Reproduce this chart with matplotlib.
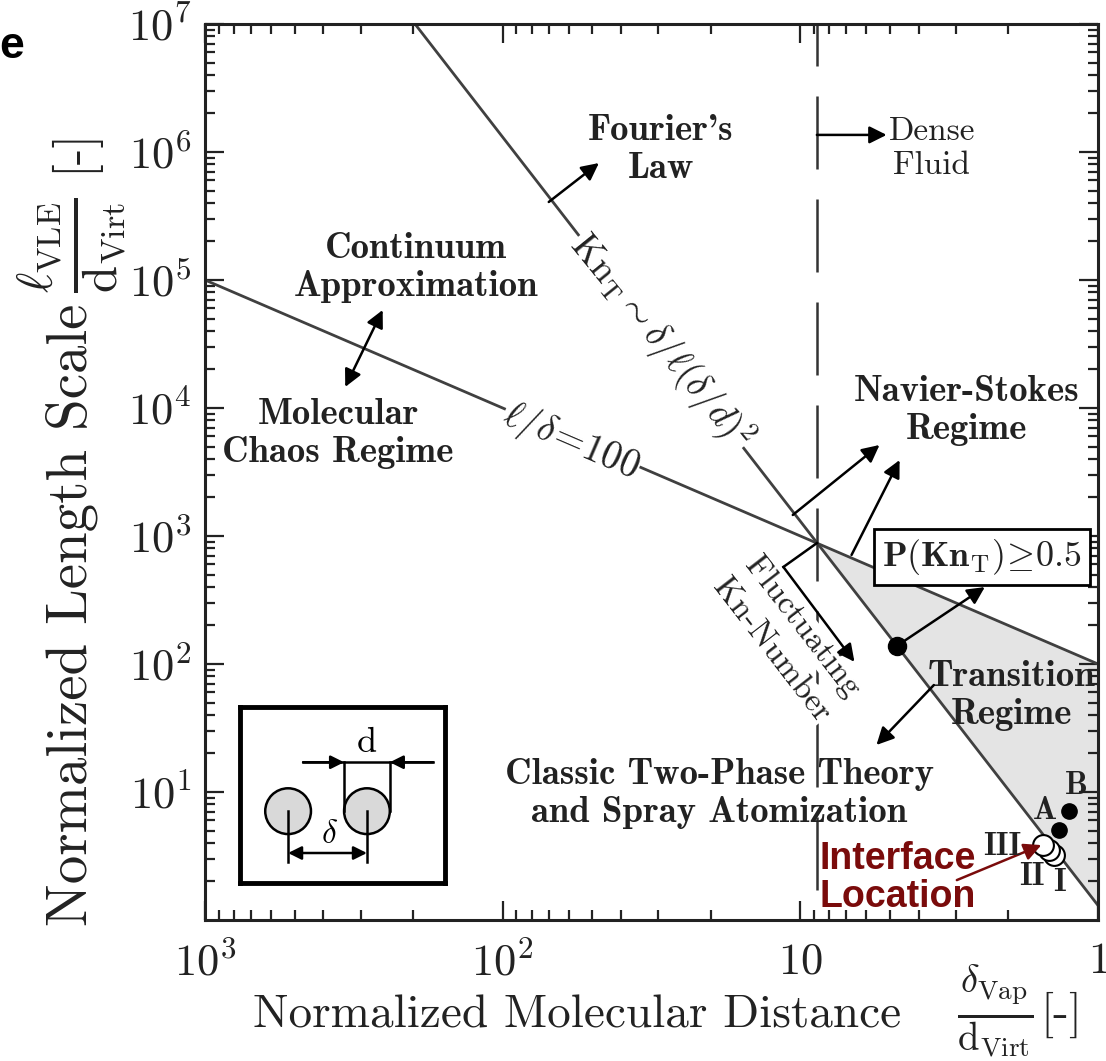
import numpy as np
import matplotlib
matplotlib.use('Agg')
import matplotlib.pyplot as plt
from matplotlib.ticker import FixedLocator, LogLocator, NullFormatter
from matplotlib.patches import Circle

plt.rcParams['font.family'] = 'cmr10'
plt.rcParams['mathtext.fontset'] = 'cm'
plt.rcParams['axes.formatter.use_mathtext'] = True

# boundary lines (delta/d , l/d)
lim100_delta = [1000, 1]
lim100_len = [1e5, 100]
kn_delta = [197, 1]
kn_len = [1e7, 1.3]
cross_delta = 8.8          # intersection -> dense fluid limit
cross_len = 880

# transition region (grey)
trans_delta = [cross_delta, 1, 1]
trans_len = [cross_len, 100, 1.3]

# marked states
p_delta = [4.75]
p_len = [138]
solid_delta = [1.25, 1.35]      # B, A
solid_len = [7.1, 5.05]
open_delta = [1.41, 1.46, 1.53]  # I, II, III
open_len = [3.22, 3.52, 3.85]

xticks = [1000, 100, 10, 1]
xticklabels = ['$10^3$', '$10^2$', '$10$', '$1$']
yticks = [1e1, 1e2, 1e3, 1e4, 1e5, 1e6, 1e7]
yticklabels = ['$10^{%d}$' % k for k in range(1, 8)]

LINE = '#404040'
TXT = '#222222'
W, H = 1106, 1061


def px(x, y):
    # pixel position -> figure fraction
    return x / W, 1 - y / H


fig = plt.figure(figsize=(W / 100, H / 100), dpi=100)
ax = fig.add_axes([205 / W, 1 - 920 / H, 893 / W, 896 / H])
ax.set_xscale('log')
ax.set_yscale('log')
ax.set_xlim(1000, 1)
ax.set_ylim(1, 1e7)

# shaded transition regime
ax.fill(trans_delta, trans_len, color='#e4e4e4', zorder=1, lw=0)

# regime boundaries
ax.plot(lim100_delta, lim100_len, color=LINE, lw=2.0, zorder=2)
ax.plot(kn_delta, kn_len, color=LINE, lw=2.0, zorder=2)
ax.plot([cross_delta, cross_delta], [1e7, 1], color='#333333', lw=1.8,
        linestyle=(12.4, (29.2, 12.0)), zorder=2)

arrow = dict(arrowstyle='-|>', color='k', lw=1.8, mutation_scale=26,
             shrinkA=0, shrinkB=0)


def arr(tail, head, style='-|>', color='k'):
    props = dict(arrow, arrowstyle=style, color=color)
    ax.annotate('', xy=head, xytext=tail, arrowprops=props, zorder=6)


bold = dict(family='cmb10', fontsize=26.5, color=TXT, ha='center',
            va='center', linespacing=1.2, zorder=5)
plain = dict(family='cmr10', fontsize=24, color=TXT, ha='center',
             va='center', linespacing=1.2, zorder=5)
white = dict(facecolor='white', edgecolor='none', pad=0.5)

# labels and arrows
ax.text(29.4, 1.04e6, "Fourier's\nLaw", **bold)
arr((70, 4.07e5), (47.5, 8.2e5))

ax.text(3.62, 1.07e6, 'Dense\nFluid', **plain)
arr((cross_delta, 1.36e6), (5.13, 1.36e6))

ax.text(196, 1.26e5, 'Continuum\nApproximation', **bold)
arr((338, 1.46e4), (253, 5.83e4), style='<|-|>')
ax.text(357, 6.3e3, 'Molecular\nChaos Regime', **bold)

ax.text(59, 5.4e3, r'$\ell/\delta\!=\!100$', fontsize=28, color=TXT,
        rotation=-23.3, ha='center', va='center', rotation_mode='anchor',
        bbox=white, zorder=4)
ax.text(29.4, 3.3e4, r'$\mathrm{Kn}_\mathrm{T}\sim\delta/\ell(\delta/d)^2$',
        fontsize=27, color=TXT, rotation=-51, ha='center', va='center',
        rotation_mode='anchor', bbox=white, zorder=4)

ax.text(2.76, 9.6e3, 'Navier-Stokes\nRegime', **bold)
arr((10.6, 1460), (5.42, 5.14e3))
arr((6.73, 711), (4.64, 3.92e3))

ax.text(2.46, 685,
        r'$\mathbf{P(Kn}_{\mathrm{T}}\mathbf{)}\!\geq\!\mathbf{0.5}$',
        fontsize=26, color=TXT, ha='center', va='center', zorder=7,
        bbox=dict(facecolor='white', edgecolor='k', lw=2, pad=6))
ax.plot(p_delta, p_len, 'o', color='k', ms=13, zorder=6)
arr((p_delta[0], p_len[0]), (2.40, 399))

ax.text(9.85, 195, 'Fluctuating', rotation=-52.3, rotation_mode='anchor',
        bbox=white, **dict(plain, zorder=3))
ax.text(12.5, 129, 'Kn-Number', rotation=-52.3, rotation_mode='anchor',
        bbox=white, **dict(plain, zorder=3))
ax.plot([cross_delta, 11.4], [cross_len, 573], color='k', lw=1.8, zorder=6)
arr((11.4, 573), (6.58, 104))

ax.text(1.95, 57, 'Transition\nRegime', **bold)
arr((3.56, 68.5), (5.55, 23.3))

ax.text(18.7, 9.8, 'Classic Two-Phase Theory\nand Spray Atomization', **bold)

# simulation states
ax.plot(solid_delta, solid_len, 'o', color='k', ms=11, zorder=6)
for d_, l_ in zip(open_delta, open_len):
    ax.plot(d_, l_, 'o', mfc='white', mec='k', mew=1.5, ms=15, zorder=6)
for lab, d_, l_ in [('B', 1.18, 11.3), ('A', 1.51, 7.2), ('III', 2.10, 3.72),
                    ('II', 1.67, 2.17), ('I', 1.35, 1.95)]:
    ax.text(d_, l_, lab, **dict(bold, fontsize=23, zorder=7))

RED = '#7a0b0b'
ax.text(8.63, 2.13, 'Interface\nLocation', color=RED, fontsize=27,
        family=['Liberation Sans Narrow', 'Liberation Sans'], weight='bold',
        ha='left', va='center', linespacing=1.1, zorder=8)
arr((2.98, 2.05), (1.55, 3.85), color=RED)

# axes styling
ax.xaxis.set_major_locator(FixedLocator(xticks))
ax.set_xticklabels(xticklabels)
ax.yaxis.set_major_locator(FixedLocator(yticks))
ax.set_yticklabels(yticklabels)
for a in (ax.xaxis, ax.yaxis):
    a.set_minor_locator(LogLocator(base=10, subs=np.arange(2, 10), numticks=100))
    a.set_minor_formatter(NullFormatter())
ax.tick_params(which='both', direction='in', top=True, right=True,
               labelsize=32, width=1.6, colors='#222222')
ax.tick_params(which='major', length=14)
ax.tick_params(axis='x', which='major', pad=16)
ax.tick_params(axis='y', which='major', pad=10)
ax.tick_params(which='minor', length=7)
for s in ax.spines.values():
    s.set_linewidth(2.2)
    s.set_color('#222222')

# axis titles (text + fraction + unit, as in the original layout)
fig.text(*px(577, 1027), 'Normalized Molecular Distance', fontsize=34,
         color=TXT, ha='center', va='baseline')
fig.text(*px(995, 1011),
         r'$\frac{\delta_{\mathrm{Vap}}}{\mathrm{d}_{\mathrm{Virt}}}$',
         fontsize=40, color=TXT, ha='center', va='center')
fig.text(*px(1061, 1027), '[-]', fontsize=34, color=TXT, ha='center',
         va='baseline')

fig.text(*px(72, 615), 'Normalized Length Scale', fontsize=41, color=TXT,
         rotation=90, ha='center', va='center')
fig.text(*px(72, 245),
         r'$\frac{\ell_{\mathrm{VLE}}}{\mathrm{d}_{\mathrm{Virt}}}$',
         fontsize=50, color=TXT, rotation=90, ha='center', va='center')
fig.text(*px(73, 150), '[-]', fontsize=36, color=TXT, rotation=90,
         ha='center', va='center')

# inset sketch of molecular spacing
ins = fig.add_axes([240 / W, 1 - 883 / H, 205 / W, 176 / H])
ins.set_xlim(-0.61, 1.99)
ins.set_ylim(-0.91, 1.32)
ins.set_xticks([])
ins.set_yticks([])
for s in ins.spines.values():
    s.set_linewidth(3.5)
for cx in (0, 1):
    ins.add_patch(Circle((cx, 0), 0.29, fc='#d9d9d9', ec='k', lw=1.8))
    ins.plot([cx, cx], [0, -0.65], color='k', lw=1.8)
small = dict(arrowstyle='-|>', color='k', lw=1.8, mutation_scale=20,
             shrinkA=0, shrinkB=0)
ins.annotate('', xy=(0, -0.53), xytext=(1, -0.53),
             arrowprops=dict(small, arrowstyle='<|-|>'))
ins.text(0.53, -0.30, r'$\delta$', fontsize=24, ha='center', va='center')
for x in (0.71, 1.29):
    ins.plot([x, x], [0, 0.62], color='k', lw=1.8)
ins.plot([0.19, 1.84], [0.62, 0.62], color='k', lw=1.8)
ins.annotate('', xy=(0.71, 0.62), xytext=(0.19, 0.62), arrowprops=small)
ins.annotate('', xy=(1.29, 0.62), xytext=(1.84, 0.62), arrowprops=small)
ins.text(1.0, 0.86, 'd', fontsize=26, ha='center', va='center')

fig.text(*px(12, 46), 'e', family='Liberation Sans', weight='bold',
         fontsize=32, ha='center', va='center')

fig.savefig('out.png', dpi=100)
